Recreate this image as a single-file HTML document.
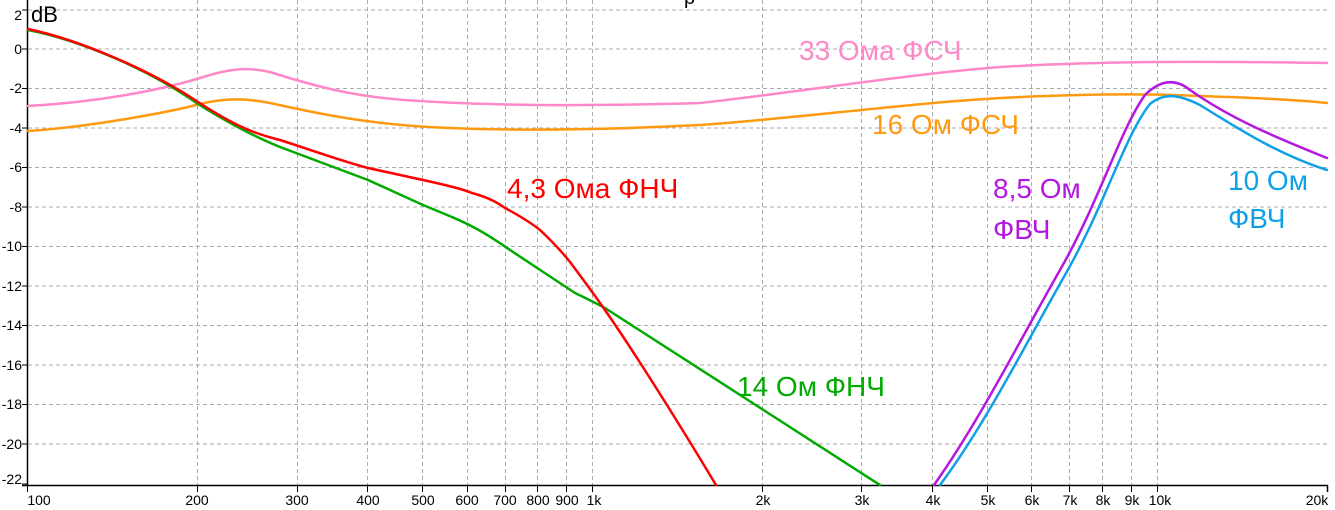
<!DOCTYPE html>
<html><head><meta charset="utf-8"><style>
html,body{margin:0;padding:0;background:#fff;}
svg{display:block;}
text{font-family:"Liberation Sans",sans-serif;}
</style></head><body>
<svg width="1335" height="510" viewBox="0 0 1335 510" xmlns="http://www.w3.org/2000/svg">
<rect width="1335" height="510" fill="#fff"/>
<g stroke="#aaa" stroke-width="1" stroke-dasharray="4,3" fill="none">
<line x1="28" y1="10" x2="1327" y2="10"/>
<line x1="28" y1="49" x2="1327" y2="49"/>
<line x1="28" y1="88.5" x2="1327" y2="88.5"/>
<line x1="28" y1="128" x2="1327" y2="128"/>
<line x1="28" y1="167.5" x2="1327" y2="167.5"/>
<line x1="28" y1="207" x2="1327" y2="207"/>
<line x1="28" y1="246.5" x2="1327" y2="246.5"/>
<line x1="28" y1="286" x2="1327" y2="286"/>
<line x1="28" y1="325.5" x2="1327" y2="325.5"/>
<line x1="28" y1="365" x2="1327" y2="365"/>
<line x1="28" y1="404.5" x2="1327" y2="404.5"/>
<line x1="28" y1="444" x2="1327" y2="444"/>
<line x1="197.5" y1="0" x2="197.5" y2="485"/>
<line x1="297.5" y1="0" x2="297.5" y2="485"/>
<line x1="367.5" y1="0" x2="367.5" y2="485"/>
<line x1="422.5" y1="0" x2="422.5" y2="485"/>
<line x1="467.5" y1="0" x2="467.5" y2="485"/>
<line x1="505.5" y1="0" x2="505.5" y2="485"/>
<line x1="537.5" y1="0" x2="537.5" y2="485"/>
<line x1="566.5" y1="0" x2="566.5" y2="485"/>
<line x1="592.5" y1="0" x2="592.5" y2="485"/>
<line x1="762.5" y1="0" x2="762.5" y2="485"/>
<line x1="861.5" y1="0" x2="861.5" y2="485"/>
<line x1="932.5" y1="0" x2="932.5" y2="485"/>
<line x1="987.5" y1="0" x2="987.5" y2="485"/>
<line x1="1031.5" y1="0" x2="1031.5" y2="485"/>
<line x1="1069.5" y1="0" x2="1069.5" y2="485"/>
<line x1="1102.5" y1="0" x2="1102.5" y2="485"/>
<line x1="1131.5" y1="0" x2="1131.5" y2="485"/>
<line x1="1157.5" y1="0" x2="1157.5" y2="485"/>
</g>
<g stroke="#000" stroke-width="1.5" fill="none">
<line x1="27.5" y1="0" x2="27.5" y2="486"/>
<line x1="22" y1="485.5" x2="1328" y2="485.5"/>
<line x1="1327.5" y1="485" x2="1327.5" y2="492"/>
</g>
<g stroke="#000" stroke-width="1">
<path d="M22 10H28M22 49H28M22 88.5H28M22 128H28M22 167.5H28M22 207H28M22 246.5H28M22 286H28M22 325.5H28M22 365H28M22 404.5H28M22 444H28M22 484H28"/>
<path d="M27.5 485V492M197.5 485V492M297.5 485V492M367.5 485V492M422.5 485V492M467.5 485V492M505.5 485V492M537.5 485V492M566.5 485V492M592.5 485V492M762.5 485V492M861.5 485V492M932.5 485V492M987.5 485V492M1031.5 485V492M1069.5 485V492M1102.5 485V492M1131.5 485V492M1157.5 485V492"/>
</g>
<g font-size="14" fill="#000" text-anchor="end">
<text x="22" y="20">2</text><text x="22" y="54">0</text><text x="22" y="93">-2</text><text x="22" y="133">-4</text><text x="22" y="172">-6</text><text x="22" y="212">-8</text><text x="22" y="251">-10</text><text x="22" y="291">-12</text><text x="22" y="330">-14</text><text x="22" y="370">-16</text><text x="22" y="409">-18</text><text x="22" y="449">-20</text><text x="22" y="484">-22</text>
</g>
<g font-size="14" fill="#000" text-anchor="middle">
<text x="39" y="505">100</text><text x="197" y="505">200</text><text x="297" y="505">300</text><text x="368" y="505">400</text><text x="423" y="505">500</text><text x="467" y="505">600</text><text x="505" y="505">700</text><text x="538" y="505">800</text><text x="567" y="505">900</text><text x="594" y="505">1k</text><text x="763" y="505">2k</text><text x="862" y="505">3k</text><text x="933" y="505">4k</text><text x="988" y="505">5k</text><text x="1032" y="505">6k</text><text x="1070" y="505">7k</text><text x="1103" y="505">8k</text><text x="1132" y="505">9k</text><text x="1160" y="505">10k</text><text x="1317" y="505">20k</text>
</g>
<text x="31" y="22" font-size="22" fill="#000">dB</text>
<text x="684" y="4" font-size="20" fill="#000">р</text>
<g fill="none" stroke-width="2.5" stroke-linejoin="round" stroke-linecap="round">
<path stroke="#ff88c8" d="M28 106 C100 102 160 90 200 78 C225 70 245 66 270 72 C320 88 360 98 420 101 C500 106 600 106 700 103 C800 92 900 75 1000 67 C1100 61 1200 61 1327 63"/>
<path stroke="#ff9a10" d="M28 131 C90 127 170 112 200 104 C225 98 245 98 270 103 C320 114 370 125 450 128 C520 131 600 130 700 125 C800 118 900 104 1000 98 C1100 93 1160 94 1200 96 C1260 98 1300 100 1327 103"/>
<path stroke="#00aa00" d="M28 30 C80 40 150 70 198 104 C230 124 255 137 280 147 L368 180 L423 205 C445 214 460 220 475 228 C490 236 500 243 510 250 C530 263 555 280 575 293 C590 300 597 304 605 308 C640 330 760 408 880 485"/>
<path stroke="#ff0000" d="M28 29 C80 40 150 70 198 102 C235 126 255 134 280 140 C320 153 345 162 368 168 C395 174 410 177 423 180 C450 186 462 189 472 193 C490 198 498 203 505 208 C520 216 530 222 540 230 C555 244 562 252 570 262 C585 282 593 293 600 303 C630 345 680 425 716 485"/>
<path stroke="#b418e0" d="M934 485 C980 420 1020 340 1060 270 C1100 200 1120 130 1145 95 C1160 80 1175 78 1190 90 C1230 118 1270 135 1327 158"/>
<path stroke="#10a0e8" d="M940 485 C985 425 1025 345 1065 275 C1105 205 1125 135 1150 104 C1165 92 1180 95 1200 105 C1240 130 1280 155 1327 170"/>
</g>
<g font-size="28">
<text x="799" y="60" fill="#ff88c8">33 Ома ФСЧ</text>
<text x="872" y="134" fill="#ff9a10">16 Ом ФСЧ</text>
<text x="507" y="198" fill="#ff0000">4,3 Ома ФНЧ</text>
<text x="737" y="396" fill="#00aa00">14 Ом ФНЧ</text>
<text x="993" y="198" fill="#b418e0">8,5 Ом</text>
<text x="993" y="239" fill="#b418e0">ФВЧ</text>
<text x="1228" y="190" fill="#10a0e8">10 Ом</text>
<text x="1228" y="228" fill="#10a0e8">ФВЧ</text>
</g>
</svg>
</body></html>
